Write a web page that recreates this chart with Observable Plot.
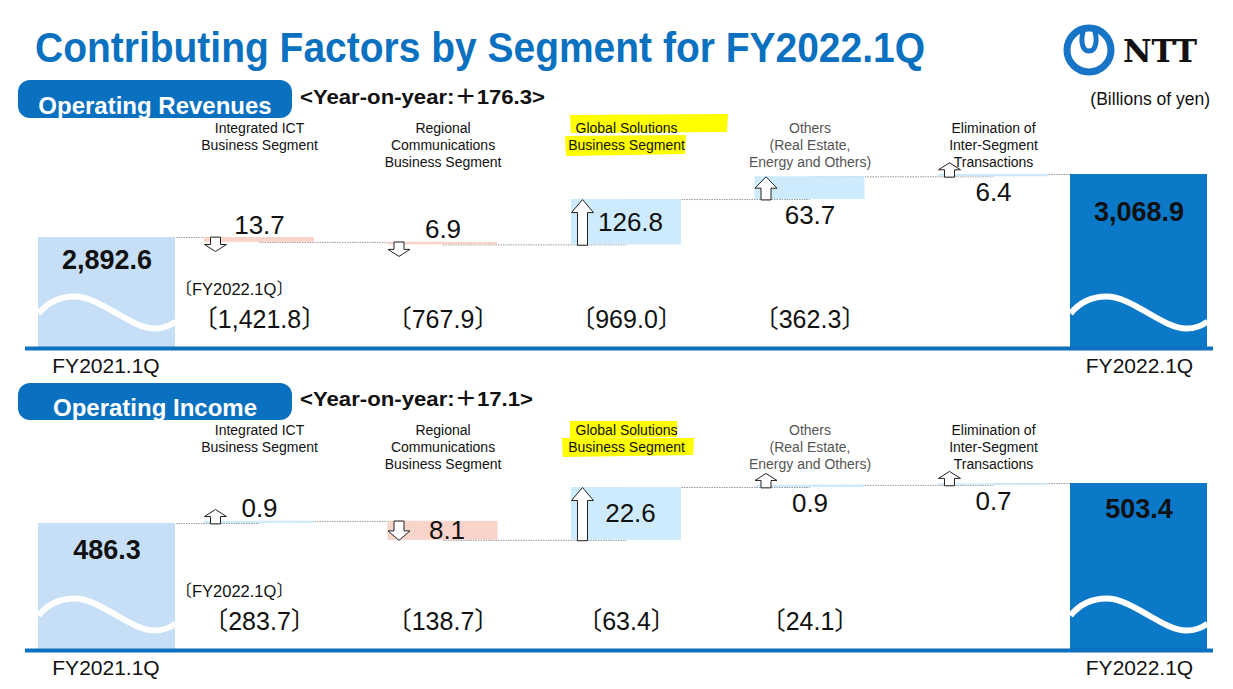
<!DOCTYPE html>
<html>
<head>
<meta charset="utf-8">
<script src="https://cdn.jsdelivr.net/npm/d3@7"></script>
<script src="https://cdn.jsdelivr.net/npm/@observablehq/plot@0.6"></script>
<style>
  body { margin: 0; background: #fff; }
  #page { position: relative; width: 1233px; height: 689px; overflow: hidden; background: #fff;
          font-family: "Liberation Sans", Arial, "Noto Sans CJK JP", sans-serif; }
  #deco { position: absolute; left: 0; top: 0; z-index: 0; }
  .panel { position: absolute; left: 0; z-index: 1; }
</style>
</head>
<body>
<div id="page">
  <svg id="deco" width="1233" height="689" font-family='"Liberation Sans", Arial, "Noto Sans CJK JP", sans-serif'>
    <!-- highlights behind "Global Solutions Business Segment" -->
    <path d="M570,115 L728,114 L727,132 L571,133 Z" fill="#FFFF00"/>
    <path d="M565,136 L686,135 L685,154 L566,156 Z" fill="#FFFF00"/>
    <path d="M570,421 L677,421 L677,437 L570,438 Z" fill="#FFFF00"/>
    <path d="M562,438 L694,438 L693,455 L563,457 Z" fill="#FFFF00"/>
    <!-- title -->
    <text x="35" y="62" font-size="43" font-weight="bold" fill="#0A70C0" textLength="890" lengthAdjust="spacingAndGlyphs">Contributing Factors by Segment for FY2022.1Q</text>
    <!-- logo -->
    <circle cx="1089" cy="50" r="22" fill="none" stroke="#1874C6" stroke-width="7"/>
    <path d="M1084,29 C1080.5,38 1081,51 1089,51 C1097,51 1097.5,38 1094,29" fill="none" stroke="#1874C6" stroke-width="5"/>
    <text x="1123" y="62" font-family="DejaVu Serif" font-weight="bold" font-size="31" fill="#111" textLength="74" lengthAdjust="spacingAndGlyphs">NTT</text>
    <text x="1210" y="105" font-size="17.5" text-anchor="end" fill="#111">(Billions of yen)</text>
    <!-- panel headers -->
    <rect x="18" y="80" width="274" height="38" rx="12" fill="#0A70C0"/>
    <text x="155" y="114" font-size="24" font-weight="bold" fill="#fff" text-anchor="middle">Operating Revenues</text>
    <text x="300" y="104" font-size="20.5" font-weight="bold" fill="#111" textLength="245" lengthAdjust="spacingAndGlyphs">&lt;Year-on-year:＋176.3&gt;</text>
    <rect x="18" y="383" width="274" height="37" rx="12" fill="#0A70C0"/>
    <text x="155" y="416" font-size="24" font-weight="bold" fill="#fff" text-anchor="middle">Operating Income</text>
    <text x="300" y="406" font-size="20.5" font-weight="bold" fill="#111" textLength="233" lengthAdjust="spacingAndGlyphs">&lt;Year-on-year:＋17.1&gt;</text>
  </svg>
  <div id="rev" class="panel" style="top:118px"></div>
  <div id="inc" class="panel" style="top:420px"></div>
</div>
<script>
// ---------------- data ----------------
const columns = ["start", "ict", "reg", "gs", "oth", "elim", "end"];
const segmentKeys = ["ict", "reg", "gs", "oth", "elim"];
const segmentNames = [
  "Integrated ICT\nBusiness Segment",
  "Regional\nCommunications\nBusiness Segment",
  "Global Solutions\nBusiness Segment",
  "Others\n(Real Estate,\nEnergy and Others)",
  "Elimination of\nInter-Segment\nTransactions"
];
const periodLabels = ["FY2021.1Q", "FY2022.1Q"];
const segTotalCaption = "〔FY2022.1Q〕";

const revStart = 2892.6;
const revEnd = 3068.9;
const revDeltas = [-13.7, -6.9, 126.8, 63.7, 6.4];
const revSegTotals = [1421.8, 767.9, 969.0, 362.3];

const incStart = 486.3;
const incEnd = 503.4;
const incDeltas = [0.9, -8.1, 22.6, 0.9, 0.7];
const incSegTotals = [283.7, 138.7, 63.4, 24.1];

// ---------------- drawing ----------------
const fmt = d3.format(",.1f");
const FONT = '"Liberation Sans", Arial, "Noto Sans CJK JP", sans-serif';

const arrowShape = {
  draw(ctx, l) {
    const hl = Math.min(13, l * 0.5), sw = 5, hw = 11;
    ctx.moveTo(-sw, 0);
    ctx.lineTo(-sw, -(l - hl));
    ctx.lineTo(-hw, -(l - hl));
    ctx.lineTo(0, -l);
    ctx.lineTo(hw, -(l - hl));
    ctx.lineTo(sw, -(l - hl));
    ctx.lineTo(sw, 0);
    ctx.closePath();
  }
};
const waveShape = {
  draw(ctx) {
    ctx.moveTo(0, 17);
    ctx.bezierCurveTo(10, 5, 22, 0, 36, 0);
    ctx.bezierCurveTo(62, 0, 92, 32, 116, 32);
    ctx.bezierCurveTo(126, 32, 132, 29, 137, 25);
  }
};

function panel(cfg) {
  const {start, end, deltas, segTotals, domain, range, H, place, startDy, endDy} = cfg;
  const base = domain[0];
  const k = (range[0] - range[1]) / (domain[1] - domain[0]);
  const rows = [];
  let lvl = start;
  deltas.forEach((d, i) => {
    rows.push({cat: segmentKeys[i], d, y0: lvl, y1: lvl + d, place: place[i]});
    lvl += d;
  });
  const links = [{a: "start", b: "ict", y: start}];
  rows.forEach((r, i) => links.push({a: r.cat, b: i < rows.length - 1 ? rows[i + 1].cat : "end", y: i < rows.length - 1 ? r.y1 : end}));

  const heads = segmentKeys.map((c, i) => ({cat: c, text: segmentNames[i], color: c === "oth" ? "#555" : "#111"}));
  const totals = segTotals.map((v, i) => ({cat: segmentKeys[i], text: `〔${fmt(v)}〕`}));

  const arrows = rows.map(r => Plot.vector([r], {
    x: "cat", y: "y0", length: Math.max(Math.abs(r.d) * k, 14), rotate: r.d < 0 ? 180 : 0,
    anchor: "start", shape: arrowShape, fill: "white", stroke: "#222", strokeWidth: 1,
    strokeLinejoin: "miter", dx: -44
  }));

  const labels = rows.map(r => {
    const top = Math.max(r.y0, r.y1), bot = Math.min(r.y0, r.y1);
    const o = {x: "cat", text: d => fmt(Math.abs(d.d)), fontSize: 26, fill: "#111"};
    if (r.place === "above") return Plot.text([r], {...o, y: () => top, lineAnchor: "bottom", dy: -4});
    if (r.place === "below") return Plot.text([r], {...o, y: () => bot, lineAnchor: "top", dy: 6});
    return Plot.text([r], {...o, y: () => (top + bot) / 2, lineAnchor: "middle", dx: 4});
  });

  return Plot.plot({
    width: 1233, height: H,
    marginTop: 0, marginBottom: H - 230, marginLeft: 25, marginRight: 20,
    x: {domain: columns, range: [-16.25, 1268.25], padding: 0, round: false, axis: null},
    y: {domain, range, axis: null},
    style: {background: "transparent", fontFamily: FONT, overflow: "visible"},
    marks: [
      Plot.link(links, {x1: "a", x2: "b", y1: "y", y2: "y", stroke: "#999", strokeWidth: 1, strokeDasharray: "1.5,1"}),
      Plot.barY([{cat: "start", v: start}], {x: "cat", y1: base, y2: "v", fill: "#C6DFF7", insetLeft: 54.25, insetRight: -7.75}),
      Plot.barY([{cat: "end", v: end}], {x: "cat", y1: base, y2: "v", fill: "#0B78C8", insetLeft: -14.75, insetRight: 61.25}),
      Plot.barY(rows, {x: "cat", y1: "y0", y2: "y1", fill: d => d.d < 0 ? "#F9D4CA" : "#CDEBFC", insetLeft: 36.75, insetRight: 36.75}),
      Plot.vector([{cat: "start"}], {x: "cat", y: () => base, length: 10, anchor: "start", shape: waveShape, fill: "none", stroke: "white", strokeWidth: 6, strokeLinecap: "butt", dx: -37.5, dy: -52}),
      Plot.vector([{cat: "end"}], {x: "cat", y: () => base, length: 10, anchor: "start", shape: waveShape, fill: "none", stroke: "white", strokeWidth: 6, strokeLinecap: "butt", dx: -106.5, dy: -52}),
      ...arrows,
      ...labels,
      Plot.text([{cat: "start", v: start}], {x: "cat", y: "v", text: d => fmt(d.v), fontSize: 27, fontWeight: "bold", fill: "#111", dx: 31, dy: startDy, lineAnchor: "middle"}),
      Plot.text([{cat: "end", v: end}], {x: "cat", y: "v", text: d => fmt(d.v), fontSize: 27, fontWeight: "bold", fill: "#111", dx: -38, dy: endDy, lineAnchor: "middle"}),
      Plot.text([{cat: "start", t: periodLabels[0]}], {x: "cat", text: "t", frameAnchor: "bottom", dy: 18, dx: 30, fontSize: 21, fill: "#111", lineAnchor: "middle"}),
      Plot.text([{cat: "end", t: periodLabels[1]}], {x: "cat", text: "t", frameAnchor: "bottom", dy: 18, dx: -37.5, fontSize: 21, fill: "#111", lineAnchor: "middle"}),
      Plot.text(heads, {x: "cat", text: "text", fill: "color", frameAnchor: "top", lineAnchor: "top", dy: 3, fontSize: 14, lineHeight: 1.2}),
      Plot.text([{cat: "ict", t: segTotalCaption}], {x: "cat", text: "t", frameAnchor: "bottom", dy: -59, dx: -84, textAnchor: "start", fontSize: 16.5, fill: "#111", lineAnchor: "middle"}),
      Plot.text(totals, {x: "cat", text: "text", frameAnchor: "bottom", dy: -29, fontSize: 25, fill: "#111", lineAnchor: "middle"}),
      Plot.ruleY([base], {stroke: "#0B70BE", strokeWidth: 4})
    ]
  });
}

document.getElementById("rev").appendChild(panel({
  start: revStart, end: revEnd, deltas: revDeltas, segTotals: revSegTotals,
  domain: [2582, 2892.6], range: [230, 119], H: 262,
  place: ["above", "above", "inside", "below", "below"], startDy: 23, endDy: 38
}));
document.getElementById("inc").appendChild(panel({
  start: incStart, end: incEnd, deltas: incDeltas, segTotals: incSegTotals,
  domain: [432, 486.3], range: [230, 103], H: 269,
  place: ["above", "inside", "inside", "below", "below"], startDy: 27, endDy: 26
}));
</script>
</body>
</html>
